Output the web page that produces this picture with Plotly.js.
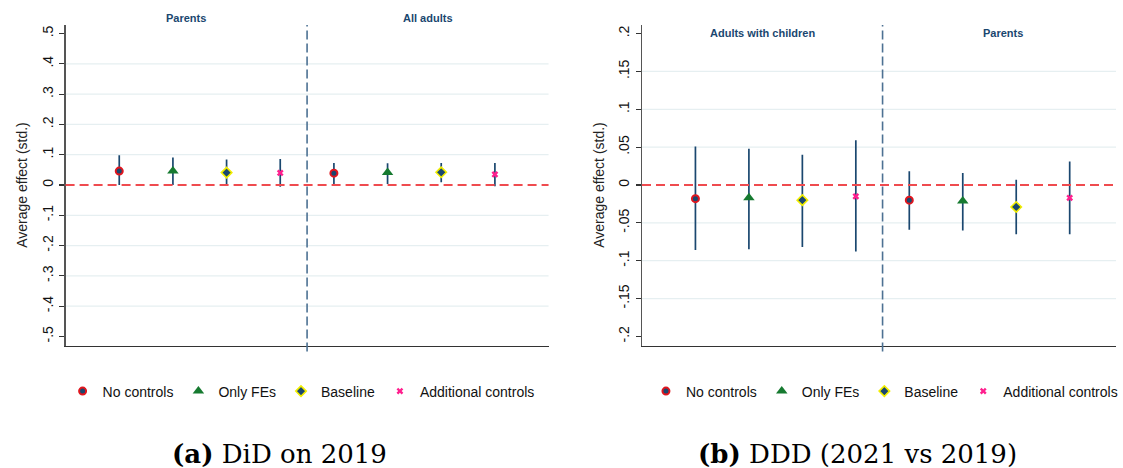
<!DOCTYPE html>
<html>
<head>
<meta charset="utf-8">
<script src="https://cdn.plot.ly/plotly-3.0.1.min.js"></script>
<style>
  html, body { margin: 0; padding: 0; background: #fff; }
  #chart { width: 1123px; height: 468px; }
</style>
</head>
<body>
<div id="chart"></div>
<script>
// Specifications shown in both panels
const specNames = ['No controls', 'Only FEs', 'Baseline', 'Additional controls'];

// Panel (a): DiD on 2019 — groups left to right
const didGroups = ['Parents', 'All adults'];
const didNoControlsEst = [0.046, 0.039];
const didNoControlsLo  = [0.000, 0.003];
const didNoControlsHi  = [0.098, 0.073];
const didOnlyFEsEst    = [0.046, 0.041];
const didOnlyFEsLo     = [0.000, 0.003];
const didOnlyFEsHi     = [0.091, 0.072];
const didBaselineEst   = [0.041, 0.042];
const didBaselineLo    = [0.000, 0.009];
const didBaselineHi    = [0.084, 0.073];
const didAdditionalEst = [0.040, 0.035];
const didAdditionalLo  = [-0.006, -0.004];
const didAdditionalHi  = [0.086, 0.073];
const didTickVals = [-0.5, -0.4, -0.3, -0.2, -0.1, 0, 0.1, 0.2, 0.3, 0.4, 0.5];
const didTickText = ['-.5', '-.4', '-.3', '-.2', '-.1', '0', '.1', '.2', '.3', '.4', '.5'];

// Panel (b): DDD (2021 vs 2019)
const dddGroups = ['Adults with children', 'Parents'];
const dddNoControlsEst = [-0.018, -0.020];
const dddNoControlsLo  = [-0.086, -0.059];
const dddNoControlsHi  = [0.051, 0.018];
const dddOnlyFEsEst    = [-0.017, -0.021];
const dddOnlyFEsLo     = [-0.085, -0.060];
const dddOnlyFEsHi     = [0.048, 0.016];
const dddBaselineEst   = [-0.020, -0.029];
const dddBaselineLo    = [-0.082, -0.065];
const dddBaselineHi    = [0.040, 0.007];
const dddAdditionalEst = [-0.015, -0.017];
const dddAdditionalLo  = [-0.088, -0.065];
const dddAdditionalHi  = [0.059, 0.031];
const dddTickVals = [-0.2, -0.15, -0.1, -0.05, 0, 0.05, 0.1, 0.15, 0.2];
const dddTickText = ['-.2', '-.15', '-.1', '-.05', '0', '.05', '.1', '.15', '.2'];

const captionA = '<b>(a)</b> DiD on 2019';
const captionB = '<b>(b)</b> DDD (2021 vs 2019)';
const yTitle = 'Average effect (std.)';

// Marker look for each specification
const markerStyles = [
  { symbol: 'circle', size: 7, color: '#1a476f', line: { color: '#e0161e', width: 2 } },
  { symbol: 'triangle-up', size: 10, color: '#167a30', line: { color: '#167a30', width: 0 } },
  { symbol: 'diamond', size: 8, color: '#1a476f', line: { color: '#f2ee00', width: 1.6 } },
  { symbol: 'x', size: 6, color: '#ff1f8e', line: { color: '#ff1f8e', width: 0 } }
];

const NAVY = '#1a476f';
const SANS = 'Liberation Sans, Arial, sans-serif';
const nSpec = specNames.length;
const groupSpan = nSpec + 0.5;   // each group occupies nSpec slots plus half a slot of padding

// x position of spec s inside group g
function positions(groups, s) {
  return groups.map((_, g) => g * nSpec + s + 1);
}

function panelTraces(groups, series, xa, ya, legendId) {
  return series.map((ser, s) => ({
    type: 'scatter',
    mode: 'markers',
    name: specNames[s],
    x: positions(groups, s),
    y: ser.est,
    xaxis: xa,
    yaxis: ya,
    legend: legendId,
    marker: markerStyles[s],
    cliponaxis: false,
    error_y: {
      type: 'data',
      symmetric: false,
      array: ser.hi.map((h, i) => h - ser.est[i]),
      arrayminus: ser.est.map((e, i) => e - ser.lo[i]),
      width: 0,
      thickness: 1.7,
      color: NAVY
    }
  }));
}

const didSeries = [
  { est: didNoControlsEst, lo: didNoControlsLo, hi: didNoControlsHi },
  { est: didOnlyFEsEst, lo: didOnlyFEsLo, hi: didOnlyFEsHi },
  { est: didBaselineEst, lo: didBaselineLo, hi: didBaselineHi },
  { est: didAdditionalEst, lo: didAdditionalLo, hi: didAdditionalHi }
];
const dddSeries = [
  { est: dddNoControlsEst, lo: dddNoControlsLo, hi: dddNoControlsHi },
  { est: dddOnlyFEsEst, lo: dddOnlyFEsLo, hi: dddOnlyFEsHi },
  { est: dddBaselineEst, lo: dddBaselineLo, hi: dddBaselineHi },
  { est: dddAdditionalEst, lo: dddAdditionalLo, hi: dddAdditionalHi }
];

const traces = [
  ...panelTraces(didGroups, didSeries, 'x', 'y', 'legend'),
  ...panelTraces(dddGroups, dddSeries, 'x2', 'y2', 'legend2')
];

const W = 1123, H = 468;
const yDomain = [(H - 345.5) / H, (H - 24.5) / H];

function yAxis(tickvals, ticktext, range, anchor) {
  return {
    domain: yDomain,
    range: range,
    anchor: anchor,
    tickmode: 'array',
    tickvals: tickvals,
    ticktext: ticktext,
    tickangle: -90,
    ticks: 'outside',
    ticklen: 5,
    tickwidth: 1.2,
    tickcolor: '#333',
    ticklabelstandoff: 1,
    tickfont: { family: SANS, size: 14, color: '#111' },
    showline: true,
    linecolor: '#555',
    linewidth: 1.3,
    showgrid: false,
    zeroline: false,
    title: { text: yTitle, font: { family: SANS, size: 14, color: '#222' } }
  };
}

function xAxis(domain, range, anchor) {
  return {
    domain: domain,
    range: range,
    anchor: anchor,
    showticklabels: false,
    ticks: '',
    showline: true,
    linecolor: '#333',
    linewidth: 1.4,
    showgrid: false,
    zeroline: false
  };
}

// Light gridlines at the inner ticks only
function gridShapes(tickvals, xref, yref) {
  return tickvals.slice(1, -1).filter(v => v !== 0).map(v => ({
    type: 'line', layer: 'below',
    xref: xref + ' domain', x0: 0, x1: 1,
    yref: yref, y0: v, y1: v,
    line: { color: '#e6eff1', width: 1.2 }
  }));
}

// Zero reference line and the dashed divider between the two groups
function refShapes(xref, yref) {
  return [
    { type: 'line', xref: xref + ' domain', x0: 0, x1: 1, yref: yref, y0: 0, y1: 0,
      line: { color: '#ef4b4f', width: 2, dash: '9px,5px' } },
    { type: 'line', xref: xref, x0: groupSpan, x1: groupSpan, yref: 'paper',
      y0: (H - 351.5) / H, y1: (H - 25) / H,
      line: { color: '#4d7193', width: 1.6, dash: '9px,4px' } }
  ];
}

function groupLabels(groups, xref, ypix) {
  return groups.map((g, i) => ({
    text: g, xref: xref, yref: 'paper',
    x: (i + 0.5) * groupSpan,
    y: (H - ypix) / H, yanchor: 'middle', showarrow: false,
    font: { family: SANS, size: 11, color: NAVY, weight: 'bold' }
  }));
}

const legendBase = {
  orientation: 'h', yanchor: 'middle', y: (H - 391.5) / H, xanchor: 'left',
  font: { family: SANS, size: 14, color: '#111' },
  bgcolor: 'rgba(0,0,0,0)', borderwidth: 0, itemwidth: 30,
  traceorder: 'normal', itemclick: false
};

const layout = {
  width: W, height: H,
  margin: { l: 0, r: 0, t: 0, b: 0 },
  paper_bgcolor: '#fff', plot_bgcolor: '#fff',
  showlegend: true,
  xaxis: xAxis([66 / W, 552 / W], [0, 2 * groupSpan], 'y'),
  yaxis: yAxis(didTickVals, didTickText, [-0.53, 0.53], 'x'),
  xaxis2: xAxis([646 / W, 1], [0, (W - 646) / 53.8], 'y2'),
  yaxis2: yAxis(dddTickVals, dddTickText, [-0.212, 0.212], 'x2'),
  legend: Object.assign({}, legendBase, { x: 63 / W }),
  legend2: Object.assign({}, legendBase, { x: 650 / W }),
  shapes: [
    ...gridShapes(didTickVals, 'x', 'y'),
    ...gridShapes(dddTickVals, 'x2', 'y2'),
    ...refShapes('x', 'y'),
    ...refShapes('x2', 'y2')
  ],
  annotations: [
    ...groupLabels(didGroups, 'x', 18),
    ...groupLabels(dddGroups, 'x2', 33),
    { text: captionA, xref: 'paper', yref: 'paper', x: 281 / W, y: (H - 454) / H,
      xanchor: 'center', yanchor: 'middle', showarrow: false,
      font: { family: 'DejaVu Serif, serif', size: 26, color: '#000' } },
    { text: captionB, xref: 'paper', yref: 'paper', x: 863 / W, y: (H - 454) / H,
      xanchor: 'center', yanchor: 'middle', showarrow: false,
      font: { family: 'DejaVu Serif, serif', size: 26, color: '#000' } }
  ]
};

Plotly.newPlot('chart', traces, layout, { staticPlot: true, displayModeBar: false });
</script>
</body>
</html>
